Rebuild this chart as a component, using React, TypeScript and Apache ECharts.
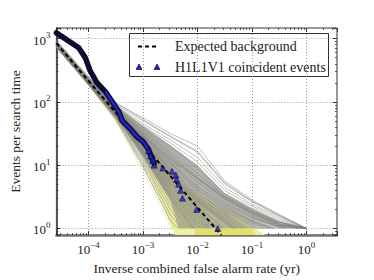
import React, { useEffect, useRef } from "react";
import * as echarts from "echarts";

// Axis ranges (yr, events)
const X_MIN = 2.57e-5;
const X_MAX = 3.63;
const Y_MIN = 0.785;
const Y_MAX = 1469;

// Expected background (dashed)
const expectedX = [2.57e-5, 1e-4, 1e-3, 1e-2, 0.0273];
const expectedY = [845, 214, 21.4, 2.14, 0.785];

// H1L1V1 coincident events: dense part (overlapping markers form a thick trace)
const denseX = [2.57e-5, 6.6e-5, 8.7e-5, 1.07e-4, 1.41e-4, 2.09e-4, 3.63e-4, 4.1e-4, 5.9e-4, 7.8e-4, 1.0e-3, 1.25e-3, 1.4e-3, 1.6e-3];
const denseY = [1230, 716, 500, 310, 203, 141, 69, 51, 37, 28, 23.5, 18, 14, 10.5];

// H1L1V1 coincident events: individually visible markers
const eventX = [0.0235, 0.0096, 0.0053, 0.0049, 0.0045, 0.0041, 0.004, 0.0034, 0.0023, 0.0016, 0.0015, 0.00138, 0.00126];
const eventY = [1, 2, 3, 4, 5, 6, 7, 8, 9, 10, 12, 14, 17];

// Background trials, log10 values sampled at these log10(IFAR) positions
const trialGridLog = [-4.59, -4.0, -3.5, -3.0, -2.5, -2.0, -1.5, -1.0, -0.5, 0];
const grayTrialsLog = [
  [2.96, 2.38, 1.97, 1.75, 1.5, 1.3, 0.75, 0.45, 0.22, 0],
  [2.95, 2.37, 1.95, 1.7, 1.45, 1.2, 0.7, 0.42, 0.2, 0],
  [2.94, 2.36, 1.93, 1.65, 1.4, 1.12, 0.65, 0.38, 0.18, 0],
  [2.94, 2.36, 1.91, 1.62, 1.35, 1.05, 0.6, 0.35, 0.15, 0],
  [2.93, 2.35, 1.9, 1.6, 1.3, 0.98, 0.55, 0.32, 0.12, 0],
  [2.93, 2.35, 1.89, 1.57, 1.25, 0.92, 0.52, 0.3, 0.1, 0],
  [2.92, 2.34, 1.88, 1.55, 1.22, 0.88, 0.5, 0.27, 0.08, 0],
  [2.92, 2.34, 1.88, 1.52, 1.18, 0.82, 0.47, 0.25, 0.06, 0],
  [2.93, 2.34, 1.87, 1.5, 1.14, 0.78, 0.45, 0.22, 0.04, 0],
  [2.92, 2.33, 1.86, 1.48, 1.1, 0.72, 0.4, 0.18, 0.02, 0],
  [2.97, 2.4, 1.99, 1.72, 1.46, 1.22, 0.72, 0.43, 0.21, 0],
  [2.86, 2.28, 1.82, 1.45, 1.1, 0.8, 0.5, 0.28, 0.1, 0],
  [2.88, 2.3, 1.84, 1.47, 1.12, 0.77, 0.48, 0.24, 0.07, 0],
  [2.95, 2.37, 1.9, 1.52, 1.16, 0.8, 0.46, 0.24, 0.05, 0],
  [2.9, 2.32, 1.86, 1.49, 1.08, 0.74, 0.42, 0.2, 0.03, 0],
  [2.94, 2.34, 1.88, 1.58, 1.28, 0.95, 0.55, 0.3, 0.1, 0],
  [2.91, 2.33, 1.87, 1.54, 1.2, 0.86, 0.5, 0.26, 0.06, 0],
  [2.91, 2.33, 1.86, 1.46, 1.06, 0.68, 0.36, 0.12],
  [2.92, 2.33, 1.85, 1.44, 1.02, 0.62, 0.3, 0.08],
  [2.94, 2.35, 1.87, 1.47, 1.04, 0.66, 0.38, 0.16],
  [2.87, 2.3, 1.83, 1.43, 1.0, 0.6, 0.32, 0.1],
  [2.89, 2.31, 1.85, 1.44, 1.04, 0.64, 0.34, 0.12],
  [2.93, 2.34, 1.84, 1.41, 0.96, 0.55, 0.27, 0.05],
  [2.91, 2.32, 1.85, 1.42, 0.98, 0.58, 0.25],
  [2.92, 2.33, 1.84, 1.4, 0.95, 0.52, 0.2],
  [2.89, 2.31, 1.83, 1.39, 0.93, 0.5, 0.22],
  [2.95, 2.35, 1.85, 1.37, 0.9, 0.46, 0.18],
  [2.91, 2.32, 1.84, 1.38, 0.92, 0.48, 0.15],
  [2.88, 2.3, 1.81, 1.35, 0.87, 0.44, 0.12],
  [2.9, 2.3, 1.8, 1.3, 0.87, 0.43, 0.14],
  [2.9, 2.32, 1.83, 1.36, 0.88, 0.42, 0.1],
  [2.92, 2.33, 1.82, 1.33, 0.84, 0.4, 0.08],
  [2.91, 2.32, 1.83, 1.34, 0.85, 0.38],
  [2.87, 2.29, 1.8, 1.31, 0.8, 0.35],
  [2.9, 2.31, 1.82, 1.32, 0.82, 0.33],
  [2.93, 2.33, 1.81, 1.29, 0.76, 0.3],
  [2.91, 2.31, 1.82, 1.3, 0.78, 0.28],
  [2.88, 2.29, 1.79, 1.27, 0.72, 0.25],
  [2.9, 2.31, 1.81, 1.28, 0.74, 0.22],
  [2.91, 2.31, 1.79, 1.25, 0.68, 0.2],
  [2.9, 2.3, 1.8, 1.26, 0.7, 0.16],
  [2.87, 2.28, 1.78, 1.23, 0.63, 0.13],
  [2.91, 2.3, 1.8, 1.24, 0.65, 0.1],
  [2.92, 2.31, 1.79, 1.21, 0.58, 0.05],
  [2.89, 2.3, 1.79, 1.22, 0.6],
  [2.86, 2.27, 1.77, 1.19, 0.53],
  [2.9, 2.29, 1.78, 1.2, 0.55],
  [2.9, 2.29, 1.77, 1.16, 0.48],
  [2.89, 2.29, 1.78, 1.17, 0.5],
  [2.9, 2.29, 1.77, 1.14, 0.44],
  [2.89, 2.28, 1.76, 1.1, 0.38],
  [2.88, 2.28, 1.75, 1.06, 0.3],
  [2.89, 2.28, 1.74, 1.02, 0.22],
  [2.88, 2.27, 1.73, 0.98, 0.12],
];
// log10(IFAR) where each trial reaches one event (null: ends on the grid)
const grayTrialEndLog = [
  null, null, null, null, null, null, null, null, null, null,
  null, null, null, null, null, null, null,
  -0.6, -0.8, -0.4, -0.7, -0.65, -0.9,
  -1.1, -1.2, -1.15, -1.25, -1.3, -1.3, -1.35, -1.35, -1.4,
  -1.55, -1.5, -1.65, -1.6, -1.7, -1.7, -1.75, -1.78, -1.8, -1.82, -1.85, -1.9,
  -1.95, -2.0, -2.05, -2.08, -2.1, -2.15, -2.2, -2.25, -2.3, -2.35,
];

// Steeper (yellow) trials, explicit [log10 x, log10 y] pairs
const yellowTrialsLog = [
  [[-4.59, 2.88], [-4.0, 2.27], [-3.5, 1.72], [-3.0, 0.95], [-2.55, 0.3], [-2.42, 0]],
  [[-4.59, 2.88], [-4.0, 2.26], [-3.5, 1.7], [-3.0, 0.9], [-2.6, 0.2], [-2.48, 0]],
  [[-4.59, 2.87], [-4.0, 2.26], [-3.5, 1.69], [-3.0, 1.0], [-2.7, 0.45], [-2.38, 0]],
  [[-4.59, 2.88], [-4.0, 2.27], [-3.5, 1.72], [-3.0, 1.08], [-2.5, 0.35], [-2.25, 0]],
];

// Shaded regions (log10 x, log10 y)
const outerBandLog = [
  [-3.45, 1.82], [-3.17, 1.42], [-2.8, 0.7], [-2.42, -0.105], [-0.75, -0.105],
  [-1.34, 0.22], [-1.8, 0.45], [-2.2, 0.65], [-2.5, 0.95], [-3.0, 1.42], [-3.45, 1.9],
];
const innerBandLog = [
  [-2.05, -0.105], [-0.92, -0.105], [-1.0, -0.01], [-2.05, -0.01],
];
// Region where the background trials overlap most densely
const trialCoreLog = [
  [-4.59, 2.97], [-4.0, 2.39], [-3.5, 1.95], [-3.0, 1.62], [-2.5, 1.32], [-2.0, 1.0],
  [-1.5, 0.55], [-1.0, 0.3], [-0.5, 0.1], [0, 0], [-0.6, 0], [-1.3, 0], [-2.35, 0],
  [-2.5, 0.45], [-3.0, 1.12], [-3.5, 1.76], [-4.0, 2.27], [-4.59, 2.86],
];

const FONT = "Liberation Serif";

const pow = (v: number) => Math.pow(10, v);

function polygonSeries(ptsLog: number[][], fill: string) {
  const pts = ptsLog.map(([a, b]) => [pow(a), pow(b)]);
  return {
    type: "custom",
    silent: true,
    data: [[1e-3, 10]],
    renderItem: (_p: any, api: any) => ({
      type: "polygon",
      shape: { points: pts.map((p) => api.coord(p)) },
      style: { fill, stroke: "none" },
    }),
  };
}

function tickLabel(v: number) {
  const e = Math.round(Math.log10(v));
  const s = e < 0 ? "\u2212" + -e : String(e);
  return "{b|10}{s|" + s + "}";
}

const labelRich = {
  b: { fontFamily: FONT, fontSize: 13, color: "#222", lineHeight: 16, verticalAlign: "bottom" },
  s: { fontFamily: FONT, fontSize: 9, color: "#222", lineHeight: 9, verticalAlign: "top" },
};

export default function App() {
  const ref = useRef<HTMLDivElement>(null);

  useEffect(() => {
    if (!ref.current) return;
    const chart = echarts.init(ref.current, undefined, { renderer: "svg" });

    const grayLines = grayTrialsLog.map((row, i) => {
      const pts = row.map((yl, j) => [pow(trialGridLog[j]), pow(yl)]);
      const end = grayTrialEndLog[i];
      if (end !== null && end !== undefined) pts.push([pow(end), 1]);
      return {
        type: "line",
        silent: true,
        symbol: "none",
        showSymbol: false,
        data: pts,
        lineStyle: { color: "rgba(125,125,125,0.55)", width: 0.9 },
      };
    });

    const yellowLines = yellowTrialsLog.map((row) => ({
      type: "line",
      silent: true,
      symbol: "none",
      showSymbol: false,
      data: row.map(([a, b]) => [pow(a), pow(b)]),
      lineStyle: { color: "rgba(215,215,110,0.55)", width: 0.8 },
    }));

    const axisCommon = {
      type: "log",
      logBase: 10,
      splitNumber: 5,
      axisTick: { show: true, inside: true, length: 4, lineStyle: { color: "#333", width: 1 } },
      minorTick: { show: true, splitNumber: 9, length: 2, lineStyle: { color: "#333", width: 0.8 } },
    };

    chart.setOption({
      animation: false,
      backgroundColor: "#fff",
      grid: {
        left: 47,
        top: 28,
        right: 37,
        bottom: 42,
        show: true,
        borderColor: "#333",
        borderWidth: 1,
        backgroundColor: "transparent",
      },
      xAxis: [
        {
          ...axisCommon,
          min: X_MIN,
          max: X_MAX,
          position: "bottom",
          axisLine: { show: true, lineStyle: { color: "#777", width: 2.5 } },
          axisLabel: {
            formatter: tickLabel,
            rich: labelRich,
            showMinLabel: false,
            showMaxLabel: false,
            margin: 5,
          },
          splitLine: { show: true, lineStyle: { color: "#999", type: [1, 2], width: 1 } },
          name: "Inverse combined false alarm rate (yr)",
          nameLocation: "middle",
          nameGap: 18,
          nameTextStyle: { fontFamily: FONT, fontSize: 13.5, color: "#222" },
        },
        {
          ...axisCommon,
          min: X_MIN,
          max: X_MAX,
          position: "top",
          axisLine: { show: false },
          axisLabel: { show: false },
          splitLine: { show: false },
        },
      ],
      yAxis: [
        {
          ...axisCommon,
          min: Y_MIN,
          max: Y_MAX,
          position: "left",
          axisLine: { show: true, lineStyle: { color: "#555", width: 2 } },
          axisLabel: {
            formatter: tickLabel,
            rich: labelRich,
            showMinLabel: false,
            showMaxLabel: false,
            margin: 6,
          },
          splitLine: { show: true, lineStyle: { color: "#999", type: [1, 2], width: 1 } },
          name: "Events per search time",
          nameLocation: "middle",
          nameGap: 26,
          nameTextStyle: { fontFamily: FONT, fontSize: 13.5, color: "#222" },
        },
        {
          ...axisCommon,
          min: Y_MIN,
          max: Y_MAX,
          position: "right",
          axisLine: { show: false },
          axisLabel: { show: false },
          splitLine: { show: false },
        },
      ],
      series: [
        polygonSeries(outerBandLog, "#efefa8"),
        polygonSeries(innerBandLog, "#e2e264"),
        polygonSeries(trialCoreLog, "rgba(140,140,125,0.55)"),
        ...yellowLines,
        ...grayLines,
        {
          type: "line",
          silent: true,
          symbol: "none",
          showSymbol: false,
          data: expectedX.map((x, i) => [x, expectedY[i]]),
          lineStyle: { color: "#000", width: 2, type: [4, 3] },
          z: 5,
        },
        {
          type: "line",
          silent: true,
          symbol: "none",
          showSymbol: false,
          data: denseX.map((x, i) => [x, denseY[i]]),
          lineStyle: { color: "#0c0c30", width: 5.5, cap: "round", join: "round" },
          z: 6,
        },
        {
          type: "line",
          silent: true,
          symbol: "none",
          showSymbol: false,
          data: denseX.slice(5).map((x, i) => [x, denseY[i + 5]]),
          lineStyle: { color: "#2424c8", width: 2.5, cap: "round", join: "round" },
          z: 7,
        },
        {
          type: "scatter",
          silent: true,
          symbol: "triangle",
          symbolSize: 6,
          data: eventX.map((x, i) => [x, eventY[i]]),
          itemStyle: { color: "#2020d0", borderColor: "#000033", borderWidth: 0.6 },
          z: 8,
        },
      ],
      graphic: [
        {
          type: "group",
          z: 100,
          children: [
            {
              type: "rect",
              shape: { x: 129.5, y: 33.5, width: 199, height: 43 },
              style: { fill: "#fff", stroke: "#333", lineWidth: 1 },
            },
            {
              type: "line",
              shape: { x1: 138, y1: 46.5, x2: 158, y2: 46.5 },
              style: { stroke: "#000", lineWidth: 2, lineDash: [4, 3] },
            },
            {
              type: "polygon",
              shape: { points: [[139, 64], [136, 69.5], [142, 69.5]] },
              style: { fill: "#2020d0", stroke: "#000033", lineWidth: 0.6 },
            },
            {
              type: "polygon",
              shape: { points: [[157, 64], [154, 69.5], [160, 69.5]] },
              style: { fill: "#2020d0", stroke: "#000033", lineWidth: 0.6 },
            },
            {
              type: "text",
              x: 175,
              y: 46.5,
              style: { text: "Expected background", fontFamily: FONT, fontSize: 14, fill: "#222", verticalAlign: "middle" },
            },
            {
              type: "text",
              x: 175,
              y: 67,
              style: { text: "H1L1V1 coincident events", fontFamily: FONT, fontSize: 14, fill: "#222", verticalAlign: "middle" },
            },
          ],
        },
      ],
    });

    return () => chart.dispose();
  }, []);

  return <div ref={ref} style={{ width: 374, height: 280, position: "absolute", left: 0, top: 0 }} />;
}
